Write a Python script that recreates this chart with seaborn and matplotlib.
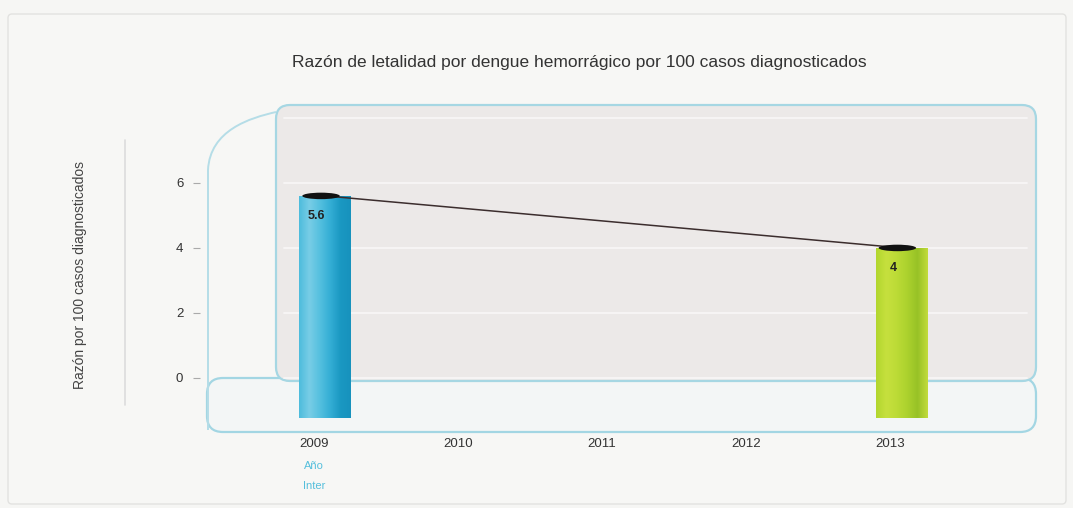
import numpy as np
import pandas as pd
import matplotlib
matplotlib.use("Agg")
import matplotlib.pyplot as plt
import seaborn as sns
from matplotlib.patches import FancyBboxPatch, Ellipse, PathPatch
from matplotlib.path import Path
from matplotlib.colors import LinearSegmentedColormap

# ---- data ----
years = [2009, 2010, 2011, 2012, 2013]
bar_years = [2009, 2013]
rates = [5.6, 4.0]
rate_labels = ["5.6", "4"]
y_ticks = [0, 2, 4, 6]
title = "Razón de letalidad por dengue hemorrágico por 100 casos diagnosticados"
ylabel = "Razón por 100 casos diagnosticados"
legend_lines = ["Año", "Inter"]

sns.set_theme(style="white")
plt.rcParams['font.family'] = ['Liberation Sans', 'DejaVu Sans']

W, H = 1073, 508
fig = plt.figure(figsize=(W / 100, H / 100), dpi=100)
fig.patch.set_facecolor('#f6f6f4')


def fx(px):
    return px / W


def fy(py):
    return 1 - py / H


def fig_box(x0, y0, x1, y1, r, fc, ec, lw=1.5, z=-10):
    p = FancyBboxPatch((fx(x0), fy(y1)), (x1 - x0) / W, (y1 - y0) / H,
                       boxstyle=f"round,pad=0,rounding_size={r / W}",
                       mutation_aspect=W / H, transform=fig.transFigure,
                       facecolor=fc, edgecolor=ec, lw=lw, zorder=z)
    fig.patches.append(p)


# outer frame
fig_box(8, 14, 1066, 504, 4, '#f7f7f5', '#e2e2e0', lw=1, z=-20)
# floor and back wall
fig_box(207, 378, 1036, 432, 16, '#f3f6f6', '#a3d6e3', lw=1.6, z=-12)
fig_box(276, 105, 1036, 381, 14, '#ece9e8', '#a6d7e3', lw=1.6, z=-11)
# left curved wall
verts = [(fx(208), fy(430)), (fx(208), fy(170)), (fx(210), fy(130)),
         (fx(250), fy(118)), (fx(276), fy(112))]
codes = [Path.MOVETO, Path.LINETO, Path.CURVE4, Path.CURVE4, Path.CURVE4]
fig.patches.append(PathPatch(Path(verts, codes), transform=fig.transFigure,
                             facecolor='none', edgecolor='#b5dde7', lw=1.4, zorder=-11))
# faint vertical separator
fig.lines.append(plt.Line2D([fx(125), fx(125)], [fy(140), fy(405)],
                            transform=fig.transFigure, color='#dcdcdc', lw=1.2))

# ---- axes ----
ax_l, ax_r, ax_t, ax_b = 200, 1040, 100, 430
ax = fig.add_axes([fx(ax_l), fy(ax_b), (ax_r - ax_l) / W, (ax_b - ax_t) / H])
ax.set_facecolor('none')
ax.set_xlim(2008.21, 2014.04)
ax.set_ylim(-1.6, 8.55)
for s in ax.spines.values():
    s.set_visible(False)

# horizontal light bands in back wall
for v in [0, 2, 4, 6, 8]:
    ax.axhline(v, xmin=0.1, xmax=0.985, color='#f8f6f6', lw=1.3, zorder=0)

floor = -1.23
off = 0.08
df = pd.DataFrame({"year": bar_years, "rate": rates})
sns.barplot(data=df, x="year", y="rate", native_scale=True, ax=ax,
            color='#3bb5d8', zorder=2)

cmaps = [LinearSegmentedColormap.from_list('c1', ['#4dbcdc', '#78cde6', '#55c0df', '#34aed5', '#1a98c2', '#1792bd']),
         LinearSegmentedColormap.from_list('c2', ['#b2d62e', '#c6e03e', '#bcdb36', '#acd22e', '#98c226', '#c2dc3c'])]
grad = np.linspace(0, 1, 256).reshape(1, -1)
for p, yr, v, cm in zip(ax.patches, bar_years, rates, cmaps):
    x0 = yr + off - 0.18
    p.set_x(x0)
    p.set_width(0.36)
    p.set_y(floor)
    p.set_height(v - floor)
    p.set_facecolor('none')
    p.set_edgecolor('none')
    im = ax.imshow(grad, cmap=cm, aspect='auto', extent=(x0, x0 + 0.36, floor, v),
                   zorder=2, interpolation='bilinear')
    im.set_clip_path(p)
    ax.add_patch(Ellipse((yr + off - 0.03, v), 0.26, 0.2, facecolor='#111111',
                         edgecolor='none', zorder=4))

sns.lineplot(x=[y + off for y in bar_years], y=rates, ax=ax, color='#3b2d2d',
             lw=1.1, zorder=3)

for yr, v, lab in zip(bar_years, rates, rate_labels):
    ax.text(yr + off - 0.06, v - 0.62, lab, ha='center', va='center',
            fontsize=9, fontweight='bold', color='#222222', zorder=5)

ax.set_xticks(years)
ax.set_xticklabels([str(y) for y in years], fontsize=9.5, color='#333333')
ax.set_yticks(y_ticks)
ax.set_yticklabels([str(t) for t in y_ticks], fontsize=9.5, color='#333333')
ax.tick_params(axis='y', length=5, width=0.8, color='#aaaaaa', pad=7, left=True)
ax.tick_params(axis='x', length=0, pad=6)
ax.set_xlabel('')
ax.set_ylabel('')
ax.grid(False)

fig.text(fx(579), fy(62), title, ha='center', va='center', fontsize=12.5, color='#333333')
fig.text(fx(80), fy(275), ylabel, ha='center', va='center', rotation=90,
         fontsize=10, color='#444444')
fig.text(fx(314), fy(466), legend_lines[0], ha='center', va='center', fontsize=8, color='#55bfdc')
fig.text(fx(314), fy(486), legend_lines[1], ha='center', va='center', fontsize=8, color='#55bfdc')

fig.savefig("out.png", dpi=100, facecolor=fig.get_facecolor())
